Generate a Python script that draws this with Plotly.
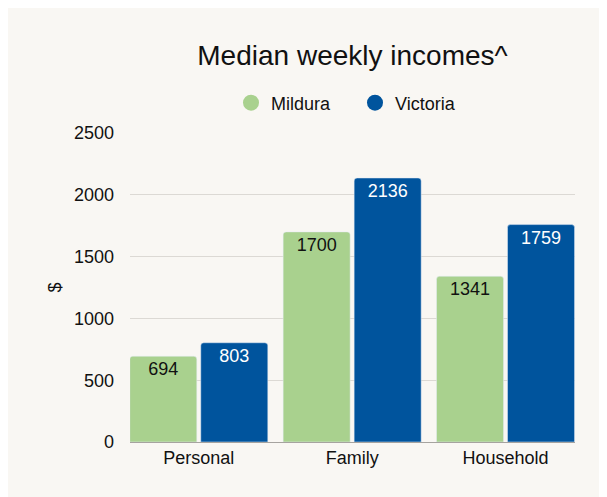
import plotly.graph_objects as go

categories = ["Personal", "Family", "Household"]
mildura = [694, 1700, 1341]
victoria = [803, 2136, 1759]
series_names = ["Mildura", "Victoria"]
y_ticks = [0, 500, 1000, 1500, 2000, 2500]

GREEN = "#a9d18e"
BLUE = "#00549d"
BG = "#f9f7f3"
FONT = "Liberation Sans, Arial, sans-serif"
FS = 18

fig = go.Figure()
fig.add_trace(go.Bar(
    x=categories, y=mildura, name=series_names[0], marker=dict(color=GREEN, cornerradius=3),
    text=[str(v) for v in mildura], textposition="inside", insidetextanchor="end",
    textangle=0, constraintext="none",
    textfont=dict(color="#111111", size=FS, family=FONT), showlegend=False, hoverinfo="x+y"))
fig.add_trace(go.Bar(
    x=categories, y=victoria, name=series_names[1], marker=dict(color=BLUE, cornerradius=3),
    text=[str(v) for v in victoria], textposition="inside", insidetextanchor="end",
    textangle=0, constraintext="none",
    textfont=dict(color="#ffffff", size=FS, family=FONT), showlegend=False, hoverinfo="x+y"))
# legend entries with circle markers
for nm, col in zip(series_names, [GREEN, BLUE]):
    fig.add_trace(go.Scatter(x=[None], y=[None], mode="markers", name=nm,
                             marker=dict(color=col, size=18, symbol="circle")))

fig.update_layout(
    width=607, height=497,
    paper_bgcolor=BG, plot_bgcolor=BG,
    margin=dict(l=122, r=40, t=125, b=63, autoexpand=False),
    barmode="group", bargap=0.074, bargroupgap=0.056,
    font=dict(family=FONT, size=FS, color="#111111"),
    title=dict(text="Median weekly incomes^", x=0.5, xref="paper", xanchor="center",
               y=1 - 47 / 497, yref="container", yanchor="middle",
               font=dict(size=28, family=FONT, color="#111111")),
    legend=dict(orientation="h", x=0.5 + 2.5 / 445, xanchor="center", xref="paper",
                y=1 - 95 / 497, yref="container", yanchor="middle",
                font=dict(size=FS, family=FONT), itemsizing="trace",
                entrywidth=79, entrywidthmode="pixels",
                bgcolor="rgba(0,0,0,0)"),
    showlegend=True,
    xaxis=dict(range=[-0.4485, 2.453], showgrid=False, showline=True, linecolor="#a6a39f",
               linewidth=1, ticks="", tickfont=dict(size=FS), fixedrange=True,
               automargin=False, ticklabelstandoff=-1),
    yaxis=dict(range=[0, 2500], tickvals=y_ticks, showgrid=True, gridcolor="#dcd9d4",
               gridwidth=1, zeroline=False, showline=False, ticks="",
               ticklabelstandoff=15, tickfont=dict(size=FS), automargin=False,
               title=dict(text="$", standoff=7, font=dict(size=FS))),
)

fig.write_html("out.html")
